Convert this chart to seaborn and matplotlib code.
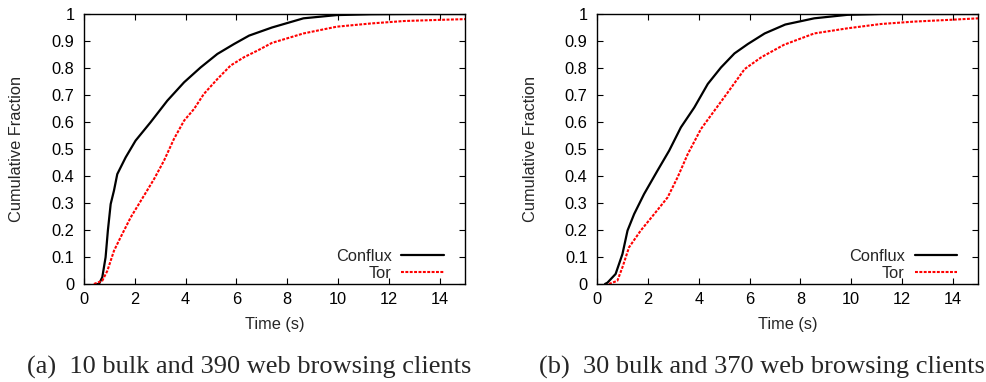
import numpy as np
import pandas as pd
import matplotlib
matplotlib.use("Agg")
import matplotlib.pyplot as plt
import seaborn as sns

# ---- data ----
a_conflux_x = [0.5, 0.59, 0.72, 0.85, 0.94, 1.05, 1.18, 1.31, 1.64, 2.03, 2.62, 3.28, 3.94, 4.59, 5.25, 5.91, 6.5, 7.4, 8.64, 9.95, 11.3, 13.0, 15.0]
a_conflux_y = [0.0, 0.0, 0.025, 0.099, 0.198, 0.296, 0.346, 0.407, 0.469, 0.531, 0.599, 0.679, 0.747, 0.802, 0.852, 0.889, 0.92, 0.95, 0.984, 0.996, 0.999, 1.0, 1.0]
a_tor_x = [0.39, 0.72, 0.92, 1.18, 1.44, 1.84, 2.36, 2.76, 3.15, 3.54, 3.94, 4.33, 4.72, 5.25, 5.77, 6.3, 6.82, 7.4, 8.64, 9.95, 11.3, 12.6, 13.9, 15.0]
a_tor_y = [0.0, 0.012, 0.049, 0.123, 0.173, 0.247, 0.327, 0.389, 0.457, 0.537, 0.605, 0.648, 0.704, 0.759, 0.809, 0.84, 0.864, 0.893, 0.928, 0.953, 0.965, 0.974, 0.978, 0.981]

b_conflux_x = [0.3, 0.4, 0.72, 0.99, 1.19, 1.45, 1.84, 2.37, 2.83, 3.29, 3.82, 4.35, 4.87, 5.4, 5.93, 6.59, 7.4, 8.54, 9.85, 11.2, 13.0, 15.0]
b_conflux_y = [0.0, 0.005, 0.037, 0.111, 0.198, 0.259, 0.333, 0.42, 0.494, 0.58, 0.654, 0.741, 0.802, 0.854, 0.889, 0.928, 0.961, 0.984, 0.997, 1.0, 1.0, 1.0]
b_tor_x = [0.46, 0.79, 0.99, 1.25, 1.71, 2.24, 2.77, 3.16, 3.56, 4.08, 4.61, 5.14, 5.8, 6.46, 7.35, 8.54, 9.85, 11.17, 12.5, 13.8, 15.0]
b_tor_y = [0.0, 0.012, 0.062, 0.136, 0.198, 0.259, 0.321, 0.395, 0.481, 0.574, 0.642, 0.71, 0.796, 0.84, 0.886, 0.928, 0.947, 0.963, 0.972, 0.978, 0.984]

series_names = ["Conflux", "Tor"]
captions = ["(a)  10 bulk and 390 web browsing clients",
            "(b)  30 bulk and 370 web browsing clients"]
x_ticks = [0, 2, 4, 6, 8, 10, 12, 14]
y_ticks = [0, 0.1, 0.2, 0.3, 0.4, 0.5, 0.6, 0.7, 0.8, 0.9, 1]
y_tick_labels = ["0", "0.1", "0.2", "0.3", "0.4", "0.5", "0.6", "0.7", "0.8", "0.9", "1"]

sns.set_theme(style="white")
plt.rcParams["font.family"] = ["Liberation Sans", "DejaVu Sans"]

W, H = 987, 382
fig = plt.figure(figsize=(W / 100, H / 100), dpi=100)
axes = [fig.add_axes([84 / W, 98 / H, 381 / W, 270 / H]),
        fig.add_axes([597.3 / W, 98 / H, 381 / W, 270 / H])]

panels = [(a_conflux_x, a_conflux_y, a_tor_x, a_tor_y),
          (b_conflux_x, b_conflux_y, b_tor_x, b_tor_y)]
cap_x = [249 / W, 762 / W]
FS = 11.8

for ax, (cx, cy, tx, ty), cap, cxp in zip(axes, panels, captions, cap_x):
    df = pd.concat([
        pd.DataFrame({"Time": cx, "Frac": cy, "series": series_names[0]}),
        pd.DataFrame({"Time": tx, "Frac": ty, "series": series_names[1]}),
    ])
    sns.lineplot(data=df[df.series == "Conflux"], x="Time", y="Frac", ax=ax,
                 color="black", lw=1.6, label="Conflux", sort=False, estimator=None)
    sns.lineplot(data=df[df.series == "Tor"], x="Time", y="Frac", ax=ax,
                 color="#ff0000", lw=1.5, label="Tor", sort=False, estimator=None,
                 linestyle=(0, (1.4, 0.7)))
    ax.set_xlim(0, 15)
    ax.set_ylim(0, 1)
    ax.set_xticks(x_ticks)
    ax.set_yticks(y_ticks)
    ax.set_yticklabels(y_tick_labels)
    ax.tick_params(direction="in", length=4.5, width=0.8, top=True, right=True,
                   bottom=True, left=True, labelsize=FS, colors="black")
    ax.tick_params(axis="y", pad=7)
    ax.tick_params(axis="x", pad=5.5)
    for s in ax.spines.values():
        s.set_color("black")
        s.set_linewidth(1.0)
    ax.set_xlabel("Time (s)", fontsize=FS, va="center")
    ax.xaxis.set_label_coords(0.5, (284 - 325) / 270)
    ax.set_ylabel("Cumulative Fraction", fontsize=FS, va="center")
    ax.yaxis.set_label_coords((17 - 84) / 381, 0.5)
    ax.legend(loc="lower right", bbox_to_anchor=((444 - 84) / 381, 0.012),
              frameon=False, markerfirst=False, fontsize=FS,
              handlelength=2.6, handletextpad=0.6, labelspacing=0.12,
              borderaxespad=0, borderpad=0)
    fig.text(cxp, 1 - 367 / H, cap, ha="center", va="center",
             fontsize=19, family=["Liberation Serif", "DejaVu Serif"])

fig.savefig("out.png", dpi=100)
